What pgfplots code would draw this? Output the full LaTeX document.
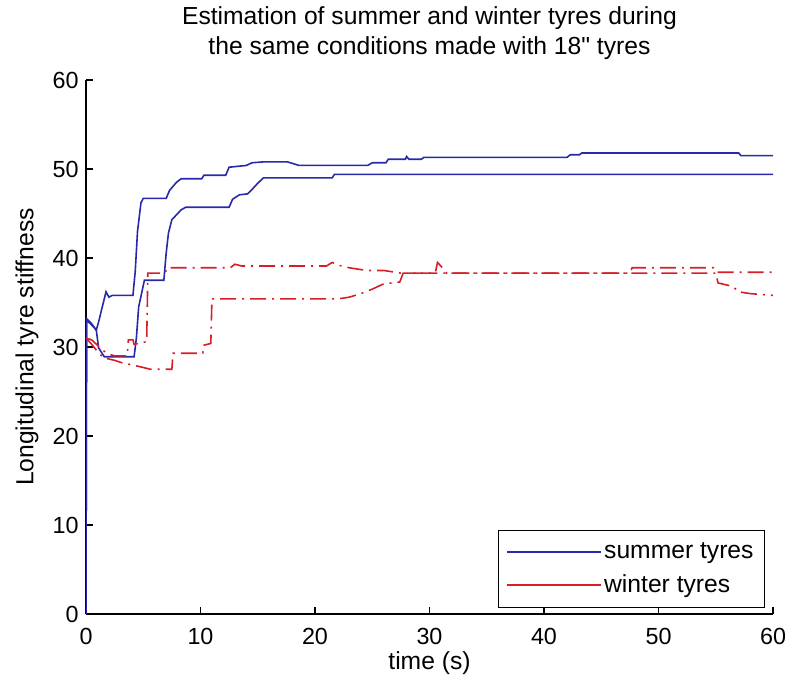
\documentclass[border=0pt]{standalone}
\usepackage{fontspec}
\setmainfont{Liberation Sans}[Ligatures=TeXOff]
\usepackage{pgfplots}
\pgfplotsset{compat=1.18}
\definecolor{mblue}{RGB}{40,40,170}
\definecolor{mred}{RGB}{215,30,40}
\begin{document}
\begin{tikzpicture}
\begin{axis}[
  width=515.25pt, height=400.5pt, scale only axis,
  xmin=0, xmax=60, ymin=0, ymax=60,
  axis x line*=bottom, axis y line*=left,
  axis line style={line width=0.9pt,-,black},
  tick align=inside, major tick length=5pt,
  tick style={line width=0.9pt, black},
  xtick={0,10,...,60}, ytick={0,10,...,60},
  /pgf/number format/assume math mode=true,
  tick label style={font=\fontsize{17.5}{20}\selectfont},
  xticklabel style={yshift=-7pt},
  yticklabel style={xshift=-2pt},
  title={Estimation of summer and winter tyres during\\the same conditions made with 18" tyres},
  title style={at={(axis description cs:0.5,1)}, anchor=south, yshift=9pt, inner sep=0pt, align=center, font=\fontsize{18.5}{22.5}\selectfont},
  xlabel={time (s)},
  ylabel={Longitudinal tyre stiffness},
  every axis x label/.style={at={(axis description cs:0.5,-0.0918)}, anchor=center, font=\fontsize{18.5}{22}\selectfont},
  every axis y label/.style={at={(axis description cs:-0.0859,0.5)}, rotate=90, anchor=center, font=\fontsize{18.5}{22}\selectfont},
  legend style={at={(axis description cs:0.988,0.011)}, anchor=south east, draw=black, line width=0.8pt, fill=white,
     font=\fontsize{18.5}{22}\selectfont, inner xsep=6pt, inner ysep=7.5pt, row sep=6.75pt,
     nodes={inner ysep=2pt}, cells={anchor=west}},
]
% summer tyres, run 1 (upper)
\addplot[mblue, line width=1.2pt,
  legend image code/.code={\path (-10pt,0pt) -- (60pt,0pt); \draw[mblue, line width=1.2pt] (0pt,0pt) -- (58pt,0pt);}] coordinates {
 (0,0) (0.05,33) (0.4,32.6) (0.9,31.9) (1.1,32.8) (1.4,34.4) (1.75,36.2) (2.0,35.6) (2.3,35.8) (4.1,35.8)
 (4.3,38.5) (4.5,43) (4.8,46.2) (5.0,46.7) (7.0,46.7) (7.3,47.6) (7.9,48.5) (8.3,48.9) (10.1,48.9) (10.3,49.3)
 (12.2,49.3) (12.5,50.2) (14.0,50.4) (14.5,50.7) (15.5,50.8) (17.6,50.8) (18.6,50.4) (24.6,50.4) (25.0,50.7)
 (26.2,50.7) (26.4,51.1) (27.9,51.1) (28.0,51.4) (28.2,51.1) (29.3,51.1) (29.5,51.3) (42.0,51.3) (42.3,51.6)
 (43.1,51.6) (43.3,51.8) (57.0,51.8) (57.2,51.5) (60,51.5)
};
\addlegendentry{summer tyres}
% summer tyres, run 2 (lower)
\addplot[mblue, line width=1.2pt, forget plot] coordinates {
 (0,0) (0.05,33.2) (0.5,32.6) (0.9,31.9) (1.1,29.9) (1.6,28.9) (4.2,28.9) (4.4,31) (4.6,34.5) (5.1,37.5)
 (6.8,37.5) (7.0,40.5) (7.2,42.8) (7.5,44.3) (8.3,45.4) (8.7,45.7) (12.5,45.7) (12.8,46.6) (13.4,47.1)
 (14.1,47.2) (14.5,47.7) (15.0,48.4) (15.5,49.0) (21.5,49.0) (21.7,49.4) (60,49.4)
};
% winter tyres, run 1 (upper)
\addplot[mred, line width=1.2pt, dash pattern=on 12pt off 4.5pt on 1.5pt off 4.5pt,
  legend image code/.code={\path (-10pt,0pt) -- (60pt,0pt); \draw[mred, line width=1.2pt, dash pattern=on 12pt off 4.5pt on 1.5pt off 4.5pt] (0pt,0pt) -- (58pt,0pt);}] coordinates {
 (0,31) (0.5,30.8) (1.0,30.2) (1.5,29.6) (2.0,29.2) (2.5,29.0) (3.6,29.0) (3.7,30.8) (4.1,30.8) (4.2,30.3)
 (5.3,30.6) (5.4,38.3) (6.9,38.3) (7.1,38.9) (12.6,38.9) (13.0,39.3) (13.6,39.1) (21.0,39.1) (21.5,39.5)
 (22.0,39.2) (23.0,38.9) (24.5,38.6) (26.0,38.6) (27.5,38.3) (30.5,38.3) (30.7,39.5) (31.2,38.8) (31.5,38.3)
 (47.5,38.3) (47.7,38.9) (54.8,38.9) (55.1,38.4) (60,38.4)
};
\addlegendentry{winter tyres}
% winter tyres, run 2 (lower)
\addplot[mred, line width=1.2pt, dash pattern=on 12pt off 4.5pt on 1.5pt off 4.5pt, forget plot] coordinates {
 (0,31) (0.5,30.3) (1.0,29.5) (1.5,28.8) (2.5,28.5) (3.2,28.2) (4.0,28.0) (5.0,27.7) (5.6,27.5) (7.5,27.5)
 (7.6,29.3) (10.2,29.3) (10.3,30.2) (10.9,30.4) (11.0,35.4) (22.0,35.4) (23.0,35.6) (24.0,36.0) (25.0,36.5)
 (26.0,37.1) (27.4,37.3) (27.7,38.3) (47.5,38.3) (55.0,38.3) (55.2,37.2) (56.5,36.8) (57.0,36.2) (58.0,36.0)
 (60,35.8)
};
\end{axis}
\pgfresetboundingbox
\path[use as bounding box] ([xshift=-64.5pt,yshift=-54pt]current axis.south west) rectangle ([xshift=9.75pt,yshift=60pt]current axis.north east);
\end{tikzpicture}
\end{document}
